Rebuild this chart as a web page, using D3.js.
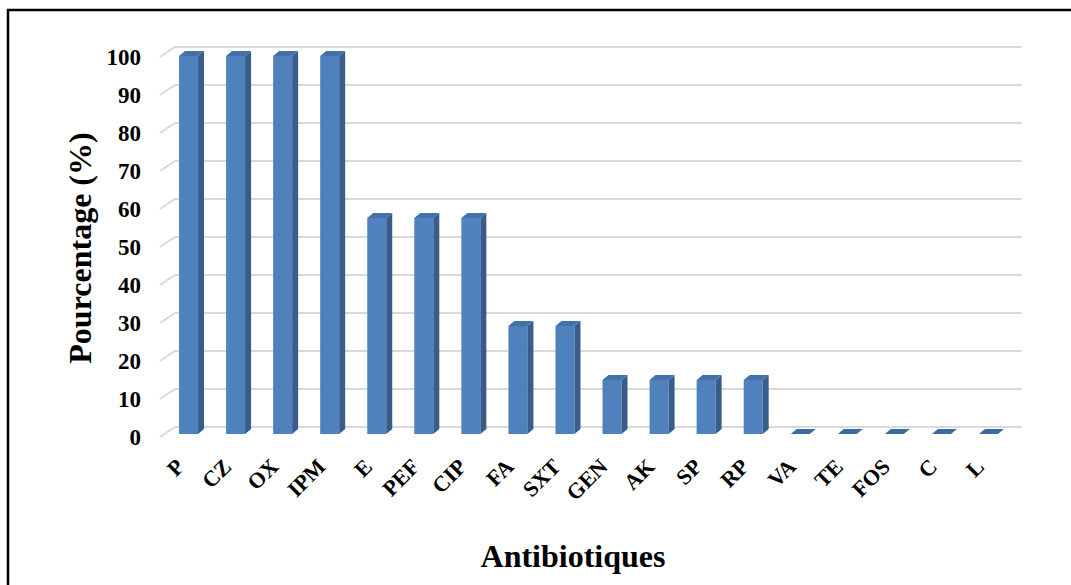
<!DOCTYPE html>
<html><head><meta charset="utf-8">
<script src="https://cdn.jsdelivr.net/npm/d3@7"></script>
<style>body{margin:0;background:#fff}svg{display:block}</style>
</head><body>
<svg id="c" width="1071" height="585"></svg>
<script>
const categories = ["P","CZ","OX","IPM","E","PEF","CIP","FA","SXT","GEN","AK","SP","RP","VA","TE","FOS","C","L"];
const values = [100,100,100,100,57.14,57.14,57.14,28.57,28.57,14.29,14.29,14.29,14.29,0,0,0,0,0];
const yTicks = [0,10,20,30,40,50,60,70,80,90,100];

const svg = d3.select("#c");
const font = "'Liberation Serif','Times New Roman',serif";

svg.append("rect").attr("x",8).attr("y",10).attr("width",1100).attr("height",600)
  .attr("fill","none").attr("stroke","#000").attr("stroke-width",2.5);

const x = d3.scaleBand().domain(categories).range([175,1022]);
const yGrid = d3.scaleLinear().domain([0,100]).range([427,47]);
const yBar = d3.scaleLinear().domain([0,100]).range([434,56]);
const fdx = -15, fdy = 10; // floor depth

// gridlines
const g = svg.append("g");
yTicks.forEach(t=>{
  const yy = yGrid(t);
  g.append("path").attr("d",`M${175+fdx},${yy+fdy}L175,${yy}L1022,${yy}`)
    .attr("fill","none").attr("stroke","#d9d9d9").attr("stroke-width",2);
});

// y tick labels
svg.append("g").selectAll("text").data(yTicks).join("text")
  .attr("x",141).attr("y",d=>yGrid(d)+fdy).attr("dy","0.35em")
  .attr("text-anchor","end").attr("font-family",font).attr("font-weight","bold")
  .attr("font-size",23).text(d=>d);

// bars
const bw = 19, sdx = 6, sdy = -5;
const bars = svg.append("g");
categories.forEach((c,i)=>{
  const v = values[i];
  const xl = x(c) + x.bandwidth()/2 - 10 - bw/2;
  const xr = xl + bw;
  const yb = yBar(0), yt = yBar(v);
  if (v > 0) {
    bars.append("rect").attr("x",xl).attr("y",yt).attr("width",bw).attr("height",yb-yt).attr("fill","#4f81bd");
    bars.append("path").attr("d",`M${xr},${yt}L${xr+sdx},${yt+sdy}L${xr+sdx},${yb+sdy}L${xr},${yb}Z`).attr("fill","#385d8a");
  }
  bars.append("path").attr("d",`M${xl},${yt}L${xl+sdx},${yt+sdy}L${xr+sdx},${yt+sdy}L${xr},${yt}Z`).attr("fill", v>0?"#4472a8":"#3d6aa3");
});

// x labels
svg.append("g").selectAll("text").data(categories).join("text")
  .attr("transform",c=>`translate(${x(c)+x.bandwidth()/2-13},468) rotate(-45)`)
  .attr("text-anchor","end").attr("font-family",font).attr("font-weight","bold")
  .attr("font-size",22).text(c=>c);

// axis titles
svg.append("text").attr("transform","translate(91,248) rotate(-90)")
  .attr("text-anchor","middle").attr("font-family",font).attr("font-weight","bold")
  .attr("font-size",32).text("Pourcentage (%)");
svg.append("text").attr("x",573).attr("y",567)
  .attr("text-anchor","middle").attr("font-family",font).attr("font-weight","bold")
  .attr("font-size",32).text("Antibiotiques");
</script>
</body></html>
